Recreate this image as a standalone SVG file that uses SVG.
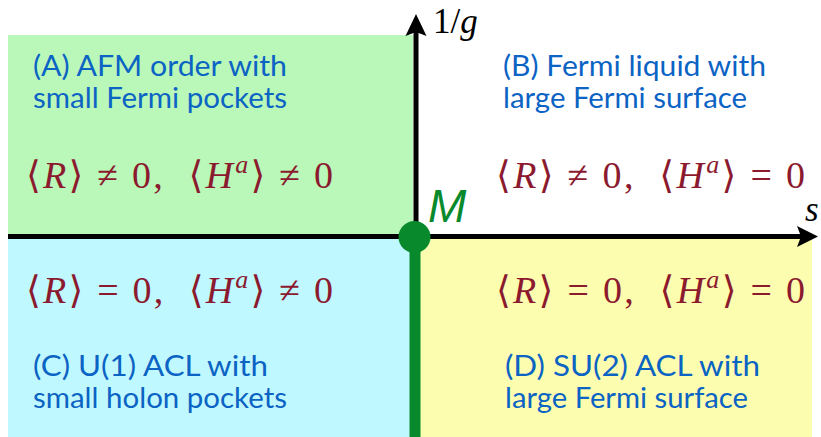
<svg xmlns="http://www.w3.org/2000/svg" width="821" height="437" viewBox="0 0 821 437">
<style>
.lbl{font-family:"Lato","Open Sans","Liberation Sans",sans-serif;font-size:28px;fill:#0b63c4}
.m{font-family:"Liberation Serif","DejaVu Serif",serif;font-size:38px;fill:#8b1a2e}
.i{font-style:italic}
.sup{font-size:26px;font-style:italic}
.ax{font-family:"Liberation Serif","DejaVu Serif",serif;font-size:35px;fill:#000}
</style>
<rect width="821" height="437" fill="#fff"/>
<g id="quadrants">
<rect id="qA" x="8" y="35" width="405" height="202" fill="#b9f8b9"/>
<rect id="qC" x="8" y="237" width="405" height="200" fill="#c0f8ff"/>
<rect id="qD" x="416" y="237" width="396" height="200" fill="#fdfdb0"/>
</g>
<g id="connectors">
<line x1="8" y1="236.5" x2="805" y2="236.5" stroke="#000" stroke-width="5"/>
<path d="M818 236.5 L797 226 L801 236.5 L797 247 Z" fill="#000"/>
<line x1="416" y1="237" x2="416" y2="30" stroke="#000" stroke-width="5"/>
<path d="M416 14 L405.5 36 L416 32 L426.5 36 Z" fill="#000"/>
<line x1="415" y1="237" x2="415" y2="437" stroke="#088a2c" stroke-width="11"/>
</g>
<g id="M">
<circle cx="414.5" cy="237" r="16" fill="#088a2c"/>
<text x="428" y="222" font-family="'Liberation Sans',sans-serif" font-size="46" font-style="italic" fill="#088a2c">M</text>
</g>
<g id="axislabels">
<text class="ax" x="433" y="33">1/<tspan class="i">g</tspan></text>
<text class="ax i" x="805" y="221">s</text>
</g>
<g id="A">
<text class="lbl" x="33" y="76" textLength="254" lengthAdjust="spacingAndGlyphs">(A) AFM order with</text>
<text class="lbl" x="33" y="108" textLength="254" lengthAdjust="spacingAndGlyphs">small Fermi pockets</text>
<text class="m" x="26" y="188" textLength="307" lengthAdjust="spacing">⟨<tspan class="i">R</tspan>⟩ ≠ 0, &#160;⟨<tspan class="i">H</tspan><tspan class="sup" dy="-15">a</tspan><tspan dy="15">⟩ ≠ 0</tspan></text>
</g>
<g id="B">
<text class="lbl" x="503" y="76" textLength="263" lengthAdjust="spacingAndGlyphs">(B) Fermi liquid with</text>
<text class="lbl" x="503" y="108" textLength="244" lengthAdjust="spacingAndGlyphs">large Fermi surface</text>
<text class="m" x="496" y="188" textLength="309" lengthAdjust="spacing">⟨<tspan class="i">R</tspan>⟩ ≠ 0, &#160;⟨<tspan class="i">H</tspan><tspan class="sup" dy="-15">a</tspan><tspan dy="15">⟩ = 0</tspan></text>
</g>
<g id="C">
<text class="m" x="26" y="303" textLength="307" lengthAdjust="spacing">⟨<tspan class="i">R</tspan>⟩ = 0, &#160;⟨<tspan class="i">H</tspan><tspan class="sup" dy="-15">a</tspan><tspan dy="15">⟩ ≠ 0</tspan></text>
<text class="lbl" x="33" y="376" textLength="235" lengthAdjust="spacingAndGlyphs">(C) U(1) ACL with</text>
<text class="lbl" x="33" y="408" textLength="254" lengthAdjust="spacingAndGlyphs">small holon pockets</text>
</g>
<g id="D">
<text class="m" x="496" y="303" textLength="309" lengthAdjust="spacing">⟨<tspan class="i">R</tspan>⟩ = 0, &#160;⟨<tspan class="i">H</tspan><tspan class="sup" dy="-15">a</tspan><tspan dy="15">⟩ = 0</tspan></text>
<text class="lbl" x="505" y="376" textLength="255" lengthAdjust="spacingAndGlyphs">(D) SU(2) ACL with</text>
<text class="lbl" x="505" y="408" textLength="243" lengthAdjust="spacingAndGlyphs">large Fermi surface</text>
</g>
</svg>
